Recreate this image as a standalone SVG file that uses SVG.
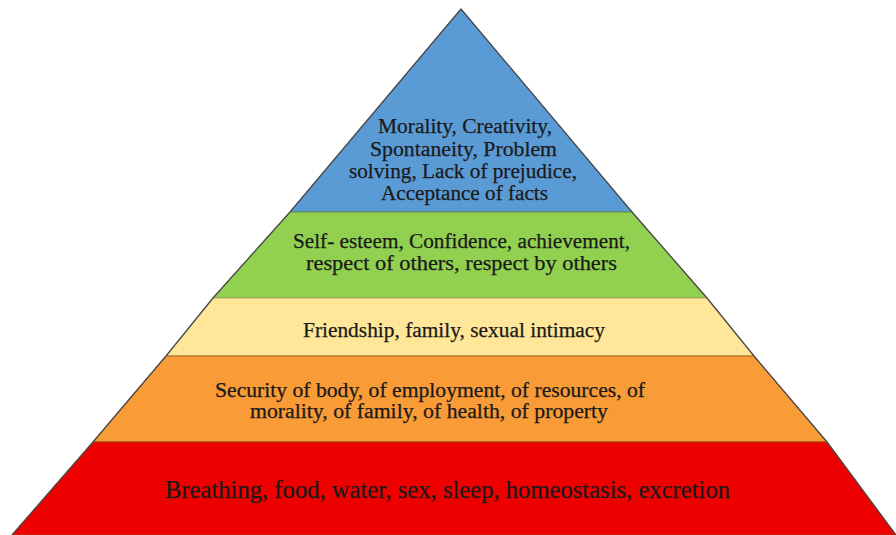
<svg xmlns="http://www.w3.org/2000/svg" width="896" height="535" viewBox="0 0 896 535">
  <style>
    .t { font-family: "Liberation Serif", "Times New Roman", serif; font-size: 20.5px; fill: #1a1a1a; stroke: #1a1a1a; stroke-width: 0.25; text-anchor: start; }
    .big { font-size: 25px; }
    .edge { fill: none; stroke: #4a4a4a; stroke-width: 1.3; stroke-linejoin: round; }
  </style>
  <rect width="896" height="535" fill="#ffffff"/>
  <g id="tier-self-actualization">
    <polygon points="461,9 290,212 632,212" fill="#5b9bd5" stroke="#4a83b8" stroke-width="0.8"/>
    <text class="t" x="378" y="133" textLength="174" lengthAdjust="spacingAndGlyphs">Morality, Creativity,</text>
    <text class="t" x="370" y="156" textLength="187" lengthAdjust="spacingAndGlyphs">Spontaneity, Problem</text>
    <text class="t" x="349" y="178" textLength="228" lengthAdjust="spacingAndGlyphs">solving, Lack of prejudice,</text>
    <text class="t" x="381" y="200" textLength="167" lengthAdjust="spacingAndGlyphs">Acceptance of facts</text>
  </g>
  <g id="tier-esteem">
    <polygon points="290,212 632,212 707,298 213,298" fill="#92d050" stroke="#5f8a30" stroke-width="0.9"/>
    <text class="t" x="293" y="248" textLength="337" lengthAdjust="spacingAndGlyphs">Self- esteem, Confidence, achievement,</text>
    <text class="t" x="306" y="270" textLength="311" lengthAdjust="spacingAndGlyphs">respect of others, respect by others</text>
  </g>
  <g id="tier-love-belonging">
    <polygon points="213,298 707,298 754,356 166,356" fill="#ffe699" stroke="#b9a56a" stroke-width="0.9"/>
    <text class="t" x="303" y="337" textLength="302" lengthAdjust="spacingAndGlyphs">Friendship, family, sexual intimacy</text>
  </g>
  <g id="tier-safety">
    <polygon points="166,356 754,356 827,442 93,442" fill="#f99b36" stroke="#a8641f" stroke-width="1"/>
    <text class="t" x="215" y="397" textLength="430" lengthAdjust="spacingAndGlyphs">Security of body, of employment, of resources, of</text>
    <text class="t" x="250" y="418" textLength="358" lengthAdjust="spacingAndGlyphs">morality, of family, of health, of property</text>
  </g>
  <g id="tier-physiological">
    <polygon points="93,442 827,442 896,535 12,535" fill="#ef0000" stroke="#a04010" stroke-width="1"/>
    <text class="t big" x="165" y="498" textLength="565" lengthAdjust="spacingAndGlyphs">Breathing, food, water, sex, sleep, homeostasis, excretion</text>
  </g>
  <g id="connectors">
    <polyline class="edge" points="12,535 93,442 166,356 213,298 290,212 461,9 632,212 707,298 754,356 827,442 896,535"/>
  </g>
</svg>
